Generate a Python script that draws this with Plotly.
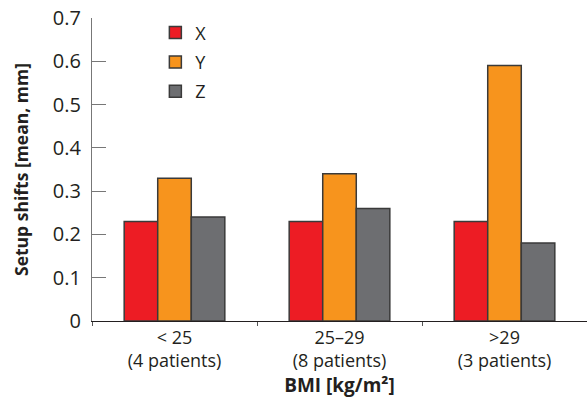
import plotly.graph_objects as go

categories = ["< 25<br>(4 patients)", "25–29<br>(8 patients)", ">29<br>(3 patients)"]
x_vals = [0.23, 0.23, 0.23]
y_vals = [0.33, 0.34, 0.59]
z_vals = [0.24, 0.26, 0.18]
series_names = ["X", "Y", "Z"]
colors = ["#ed1c24", "#f7941d", "#6d6e71"]
y_ticks = [0, 0.1, 0.2, 0.3, 0.4, 0.5, 0.6, 0.7]
y_tick_labels = ["0", "0.1", "0.2", "0.3", "0.4", "0.5", "0.6", "0.7"]

font = "Open Sans"
fig = go.Figure()
for name, vals, c in zip(series_names, [x_vals, y_vals, z_vals], colors):
    fig.add_trace(go.Bar(
        x=categories, y=vals, name=name, legendgroup=name,
        marker=dict(color=c, line=dict(color="#3a3a3a", width=1.5)),
    ))

fig.update_layout(
    width=587, height=399,
    margin=dict(l=92, r=0, t=18, b=78),
    paper_bgcolor="white", plot_bgcolor="white",
    barmode="group", bargap=0.39, bargroupgap=0,
    font=dict(family=font, size=18, color="#231f20"),
    showlegend=True,
    legend=dict(x=0.128, y=1.012, xanchor="left", yanchor="top",
                bgcolor="rgba(0,0,0,0)", font=dict(size=18),
                tracegroupgap=3, itemwidth=30),
    xaxis=dict(
        range=[-0.5, 2.5], showline=True, linecolor="#231f20", linewidth=1.2,
        ticks="outside", tickson="boundaries", ticklen=4, tickcolor="#555",
        showgrid=False, zeroline=False, automargin=False,
        tickfont=dict(size=18, family=font, color="#231f20"),
        title=dict(text="<b>BMI [kg/m²]</b>", font=dict(size=19, family=font), standoff=2),
    ),
    yaxis=dict(
        range=[0, 0.7], tickvals=y_ticks, ticktext=y_tick_labels,
        showline=True, linecolor="#777", linewidth=1.2,
        ticks="inside", ticklen=14, tickcolor="#777", tickwidth=1.2,
        showgrid=False, zeroline=False, automargin=False,
        ticklabelstandoff=6,
        tickfont=dict(size=20, family=font, color="#231f20"),
        title=dict(text="<b>Setup shifts [mean, mm]</b>", font=dict(size=17.5, family=font), standoff=19),
    ),
)
fig.write_html("out.html", config={"displayModeBar": False},
               post_script="document.body.style.margin='0';document.body.style.overflow='hidden';")
